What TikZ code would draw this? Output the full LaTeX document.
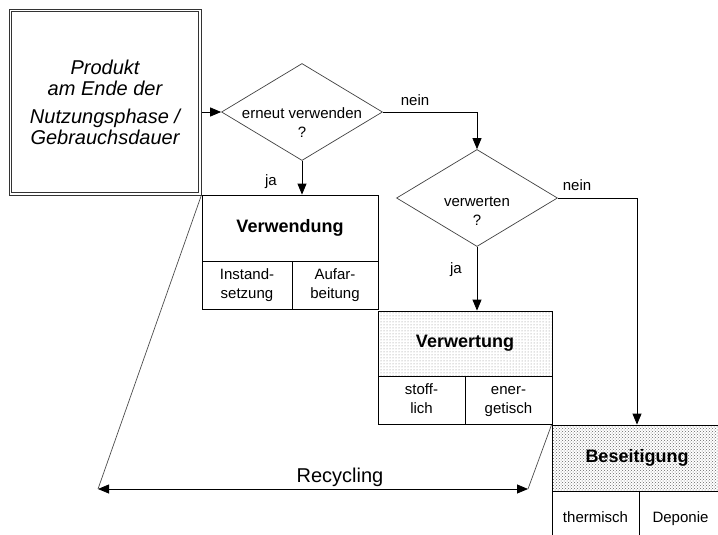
\documentclass[tikz,border=0pt]{standalone}
\usepackage{fontspec}
\setmainfont{Liberation Sans}
\usetikzlibrary{shapes.geometric, arrows.meta, patterns}
\pgfdeclarelayer{edgelayer}
\pgfdeclarelayer{nodelayer}
\pgfsetlayers{edgelayer,nodelayer,main}
\tikzstyle{edge}=[draw=black, line width=0.8pt]
\tikzstyle{arrow}=[draw=black, line width=0.8pt, -{Triangle[length=11pt,width=9pt]}]
\tikzstyle{slant}=[draw=black!70, line width=0.7pt]
\tikzstyle{start}=[rectangle, draw=black!80, line width=0.8pt, minimum width=192pt, minimum height=186pt, align=center, font=\fontsize{20}{21}\selectfont\itshape]
\tikzstyle{decision}=[diamond, draw=black!75, line width=0.7pt, inner sep=0pt, minimum width=161pt, minimum height=97pt]
\tikzstyle{txt}=[align=center, inner sep=0pt, font=\fontsize{15}{19}\selectfont]
\tikzstyle{head}=[rectangle, draw=black, line width=0.8pt, inner sep=0pt, font=\fontsize{18}{20}\selectfont\bfseries]
\tikzstyle{cell}=[rectangle, draw=black, line width=0.8pt, inner sep=0pt, align=center, font=\fontsize{15}{19}\selectfont]

\begin{document}
\begin{tikzpicture}[x=1pt, y=-1pt]
				\useasboundingbox (0, 0) rectangle (718, 535);
				\begin{pgfonlayer}{nodelayer}
					\node [style=start] (1) at (105, 102) {Produkt\\am Ende der\\[7pt]Nutzungsphase /\\Gebrauchsdauer};
					\draw [draw=black!80, line width=0.8pt] ([shift={(3, 3)}]1.north west) rectangle ([shift={(-3, -3)}]1.south east);
					\node [style=decision] (2) at (302, 112) {};
					\node [style=txt] (2t) at (302, 123) {erneut verwenden\\?};
					\node [style=decision] (12) at (477, 198) {};
					\node [style=txt] (12t) at (477, 211) {verwerten\\?};
					\node [style=head, minimum width=176pt, minimum height=66pt] (3) at (290, 228) {Verwendung};
					\node [style=cell, minimum width=90pt, minimum height=48pt] (4) at (247, 285) {\strut Instand-\\\strut setzung};
					\node [style=cell, minimum width=86pt, minimum height=48pt] (5) at (335, 285) {\strut Aufar-\\\strut beitung};
					\node [style=head, pattern=dots, pattern color=black!50, minimum width=174pt, minimum height=65pt] (6) at (465, 343.5) {Verwertung};
					\node [style=cell, minimum width=87pt, minimum height=48pt] (7) at (421.5, 400) {\strut stoff-\\\strut lich};
					\node [style=cell, minimum width=87pt, minimum height=48pt] (8) at (508.5, 400) {\strut ener-\\\strut getisch};
					\node [style=head, pattern=crosshatch dots, pattern color=black!60, minimum width=170pt, minimum height=66pt] (9) at (637, 458) {Beseitigung};
					\node [style=cell, minimum width=87pt, minimum height=49pt, text depth=0pt] (10) at (595.5, 515.5) {\strut thermisch};
					\node [style=cell, minimum width=83pt, minimum height=49pt, text depth=0pt] (11) at (680.5, 515.5) {\strut Deponie};
					\node [style=txt] (15) at (271, 182) {ja};
					\node [style=txt] (16) at (415, 100) {nein};
					\node [style=txt] (17) at (456, 270) {ja};
					\node [style=txt] (18) at (577, 185) {nein};
					\node [style=txt, font=\fontsize{20}{22}\selectfont] (19) at (340, 477) {Recycling};
					\coordinate (13) at (98, 489);
					\coordinate (14) at (528, 489);
				\end{pgfonlayer}
				\begin{pgfonlayer}{edgelayer}
					\draw [style=arrow] (1.east |- 2.west) to (2.west);
					\draw [style=arrow] (2.south) to (2.south |- 3.north);
					\draw [style=arrow] (2.east) -| (12.north);
					\draw [style=arrow] (12.south) to (12.south |- 6.north);
					\draw [style=arrow] (12.east) -| (9.north);
					\draw [style=slant] (3.north west) to (13);
					\draw [style=slant] (9.north west) to (14);
					\draw [style=edge, {Triangle[length=11pt,width=9pt]}-{Triangle[length=11pt,width=9pt]}] (13) to (14);
				\end{pgfonlayer}
			\end{tikzpicture}
\end{document}
